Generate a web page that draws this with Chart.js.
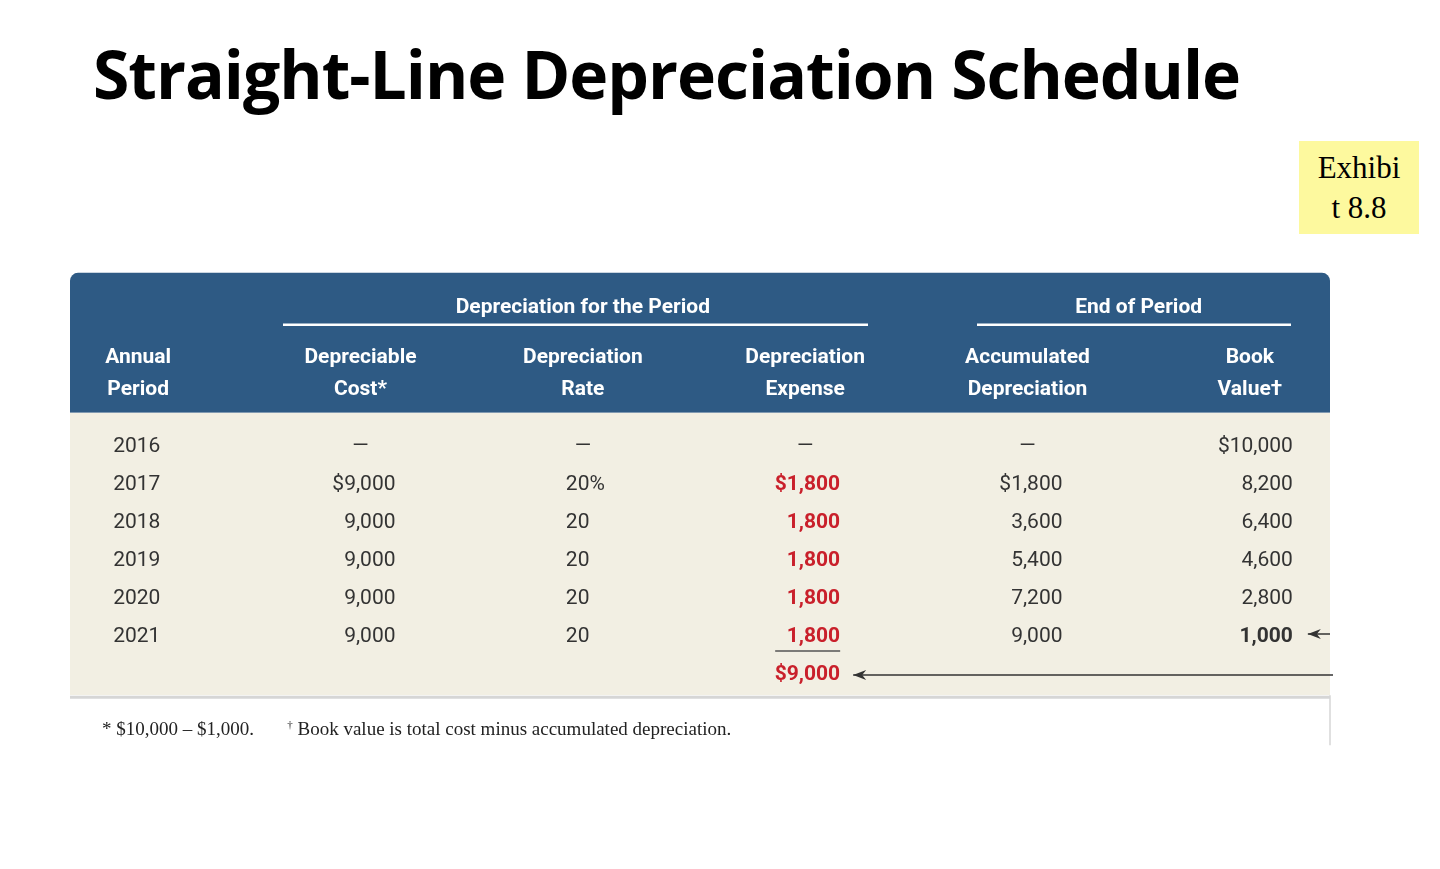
<!DOCTYPE html>
<html><head><meta charset="utf-8">
<script src="https://cdn.jsdelivr.net/npm/chart.js@4"></script>
<style>
html,body{margin:0;padding:0;background:#fff;width:1440px;height:869px;overflow:hidden;position:relative}
#t{position:absolute;left:93px;top:28px;font:bold 66px 'Open Sans','Noto Sans',sans-serif;color:#000;letter-spacing:-1px;white-space:nowrap}
#ex{position:absolute;left:1299px;top:141px;width:120px;height:93px;background:#fdf99e;font:31px 'Liberation Serif',serif;text-align:center;line-height:40px;padding-top:7px;box-sizing:border-box}
#fn{position:absolute;left:102px;top:718px;font:19px 'Liberation Serif',serif;color:#222;white-space:nowrap}
canvas{position:absolute;left:0;top:0}
</style></head><body>
<div id="t">Straight-Line Depreciation Schedule</div>
<div id="ex">Exhibi<br>t 8.8</div>
<canvas id="c" width="1440" height="869"></canvas>
<div id="fn">* $10,000 – $1,000.&nbsp;&nbsp;&nbsp;&nbsp;&nbsp;&nbsp;&nbsp;<sup style="font-size:11px">†</sup> Book value is total cost minus accumulated depreciation.</div>
<script>
const columns = ['period','cost','rate','expense','accum','book'];
const headerTop = ['Annual','Depreciable','Depreciation','Depreciation','Accumulated','Book'];
const headerBottom = ['Period','Cost*','Rate','Expense','Depreciation','Value†'];
const groupHeaders = ['Depreciation for the Period','End of Period'];
const years = ['2016','2017','2018','2019','2020','2021',''];
const costs = ['—','$9,000','9,000','9,000','9,000','9,000',''];
const rates = ['—','20%','20','20','20','20',''];
const expenses = ['—','$1,800','1,800','1,800','1,800','1,800','$9,000'];
const accumulated = ['—','$1,800','3,600','5,400','7,200','9,000',''];
const bookValues = ['$10,000','8,200','6,400','4,600','2,800','1,000',''];
const rowKeys = ['r2016','r2017','r2018','r2019','r2020','r2021','total'];

const cols = [years,costs,rates,expenses,accumulated,bookValues];
const tablePlugin = {
  id:'table',
  beforeDatasetsDraw(ch){
    const c=ch.ctx, xs=ch.scales.x, ys=ch.scales.y;
    const X=i=>xs.getPixelForValue(i), Y=j=>ys.getPixelForValue(j);
    const L=70,R=1330, rowH=Y(1)-Y(0);
    const bodyTop=Y(0)-rowH*0.9, bodyBot=Y(6)+rowH*0.53;
    const hTop=bodyTop-140;
    c.save();
    // header bg
    c.fillStyle='#2e5a84';
    c.beginPath();c.roundRect(L,hTop,R-L,bodyTop-hTop,[8,8,0,0]);c.fill();
    c.fillStyle='#f2efe3';c.fillRect(L,bodyTop,R-L,bodyBot-bodyTop);
    c.strokeStyle='#d6d6d6';c.lineWidth=3;c.beginPath();c.moveTo(L,bodyBot+2);c.lineTo(R,bodyBot+2);c.stroke();
    c.lineWidth=1.5;c.beginPath();c.moveTo(R,bodyBot);c.lineTo(R,bodyBot+50);c.stroke();
    // headers
    c.fillStyle='#fff';c.textAlign='center';c.textBaseline='middle';
    c.font="bold 21px 'Liberation Sans Narrow','Roboto',sans-serif";
    const g1=(X(1)+X(3))/2, g2=(X(4)+X(5))/2;
    c.fillText(groupHeaders[0],g1,hTop+35);c.fillText(groupHeaders[1],g2,hTop+35);
    c.strokeStyle='#fff';c.lineWidth=2.5;
    c.beginPath();c.moveTo(283,hTop+52);c.lineTo(868,hTop+52);c.moveTo(977,hTop+52);c.lineTo(1291,hTop+52);c.stroke();
    for(let i=0;i<6;i++){c.fillText(headerTop[i],X(i),hTop+85);c.fillText(headerBottom[i],X(i),hTop+117);}
    // body
    const off=[[-25,'left'],[35,'right'],[-17,'left'],[35,'right'],[35,'right'],[43,'right']];
    for(let i=0;i<6;i++){
      for(let j=0;j<7;j++){
        const v=cols[i][j]; if(!v)continue;
        let x=X(i)+off[i][0], al=off[i][1];
        if(v==='—'){x=X(i)+(i===0?0:(i===2?0:0));al='center';if(i===1||i===3||i===4)x=X(i)+(i===4?0:0);}
        c.textAlign=al;
        const red=(i===3&&v!=='—'), bold=red||(i===5&&j===5);
        c.fillStyle=red?'#c9202b':'#333';
        c.font=(bold?'bold ':'')+"21px 'Liberation Sans Narrow','Roboto',sans-serif";
        c.fillText(v,x,Y(j));
      }
    }
    // underline and arrows
    c.strokeStyle='#555';c.lineWidth=1.5;
    c.beginPath();c.moveTo(X(3)-30,Y(5)+14);c.lineTo(X(3)+35,Y(5)+14);c.stroke();
    c.strokeStyle='#333';c.fillStyle='#333';
    const arrow=(x1,x2,y)=>{c.beginPath();c.moveTo(x1,y);c.lineTo(x2,y);c.stroke();
      c.beginPath();c.moveTo(x2,y);c.lineTo(x2+13,y-5);c.lineTo(x2+9,y);c.lineTo(x2+13,y+5);c.closePath();c.fill();};
    arrow(1333,X(3)+48,Y(6));
    arrow(1330,X(5)+58,Y(5)-3);
    c.restore();
  }
};
new Chart(document.getElementById('c'),{
  type:'bar',
  data:{labels:columns,datasets:[{data:[],backgroundColor:'transparent'}]},
  options:{responsive:false,animation:false,devicePixelRatio:1,
    layout:{padding:{left:27,right:79,top:428,bottom:175}},
    plugins:{legend:{display:false},tooltip:{enabled:false}},
    scales:{x:{type:'category',display:false,offset:true},
      y:{type:'category',labels:rowKeys,display:false,offset:true}}},
  plugins:[tablePlugin]
});
</script>
</body></html>
